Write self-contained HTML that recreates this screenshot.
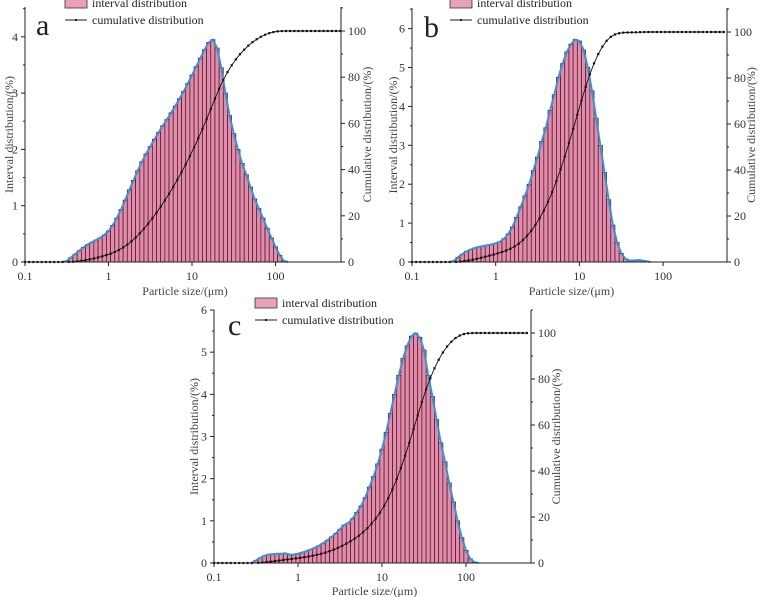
<!DOCTYPE html>
<html><head><meta charset="utf-8"><style>
body{margin:0;background:#fff;}
svg{display:block;font-family:"Liberation Serif",serif;}
</style></head><body>
<svg id="chart" width="760" height="597" viewBox="0 0 760 597" xmlns="http://www.w3.org/2000/svg"></svg>
<script>
// Bin centers: log10(size) from startLog in steps of 0.05
const startLogA = -0.5;
const intervalA = [0.02,0.08,0.14,0.2,0.26,0.31,0.35,0.39,0.43,0.48,0.55,0.65,0.78,0.93,1.1,1.28,1.45,1.62,1.78,1.92,2.05,2.18,2.3,2.42,2.53,2.65,2.77,2.9,3.03,3.17,3.32,3.47,3.62,3.77,3.9,3.95,3.8,3.45,3.0,2.6,2.28,2.0,1.75,1.55,1.33,1.12,0.95,0.78,0.6,0.43,0.27,0.12,0.02];
const startLogB = -0.5;
const intervalB = [0.03,0.12,0.2,0.27,0.32,0.36,0.39,0.41,0.43,0.45,0.48,0.52,0.6,0.72,0.9,1.15,1.42,1.7,2.0,2.35,2.7,3.1,3.45,3.9,4.3,4.75,5.1,5.4,5.6,5.72,5.68,5.45,5.0,4.4,3.7,3.0,2.3,1.6,0.95,0.5,0.22,0.08,0.04,0.04,0.05,0.04,0.02];
const startLogC = -0.5;
const intervalC = [0.06,0.12,0.17,0.2,0.21,0.22,0.22,0.23,0.2,0.2,0.22,0.25,0.28,0.32,0.36,0.41,0.47,0.54,0.62,0.7,0.8,0.9,0.95,1.05,1.2,1.35,1.55,1.8,2.05,2.35,2.7,3.1,3.55,4.0,4.45,4.85,5.15,5.38,5.45,5.35,5.05,4.45,3.95,3.4,2.85,2.4,1.9,1.45,1.0,0.6,0.3,0.1,0.02];
const xTickLabels = ["0.1","1","10","100"];
const rightTicks = [0,20,40,60,80,100];

const NS = "http://www.w3.org/2000/svg";
const svg = document.getElementById('chart');
function mk(tag, attrs, parent){const e=document.createElementNS(NS,tag);for(const k in attrs)e.setAttribute(k,attrs[k]);(parent||svg).appendChild(e);return e;}

const panels = [
 {id:'a', data:intervalA, start:startLogA, x0:25, dec:83.5, xr:341, y0:262, ytop:7, lmax:(262-7)/56.3, leftTicks:[0,1,2,3,4], ry100:31,
  letter:[36,35], leg:[65,0], xlabY:280, xtitleY:295, ltitleX:9, rtitleX:371},
 {id:'b', data:intervalB, start:startLogB, x0:412, dec:83.7, xr:727, y0:262, ytop:8, lmax:(262-8)/38.9, leftTicks:[0,1,2,3,4,5,6], ry100:32,
  letter:[424,37], leg:[450,0], xlabY:280, xtitleY:295, ltitleX:393, rtitleX:755},
 {id:'c', data:intervalC, start:startLogC, x0:214, dec:84, xr:531, y0:563, ytop:310, lmax:6, leftTicks:[0,1,2,3,4,5,6], ry100:333,
  letter:[228,335], leg:[255,300], xlabY:581, xtitleY:595, ltitleX:194, rtitleX:560}
];

panels.forEach(p=>{
  const g = mk('g',{});
  
  
  const xs = l => p.x0 + (l+1)*p.dec;
  const ysL = v => p.y0 - v*(p.y0-p.ytop)/p.lmax;
  const ysR = v => p.y0 - v*(p.y0-p.ry100)/100;
  const bars = mk('g',{},g);
  
  
  const pts=[];
  p.data.forEach((v,i)=>{
    const l = p.start + 0.05*i;
    const xa = xs(l-0.025), xb = xs(l+0.025);
    const r = mk('rect',{x:xa,y:ysL(v),width:xb-xa,height:p.y0-ysL(v),fill:'#e68aa9',stroke:'#3a1828','stroke-width':0.7},bars);
    
    
    pts.push([xs(l),ysL(v)]);
  });
  const allPts=[[xs(p.start-0.05),p.y0]].concat(pts).concat([[xs(p.start+0.05*p.data.length),p.y0]]);
  const curve = mk('polyline',{points:allPts.map(q=>q.join(',')).join(' '),fill:'none',stroke:'#3b8fd4','stroke-width':2},g);
  
  
  const total = p.data.reduce((a,b)=>a+b,0);
  const cpts=[]; let cs=0;
  for(let l=-1;l<p.start-0.001;l+=0.05) cpts.push([xs(l),ysR(0)]);
  p.data.forEach((v,i)=>{cs+=v;cpts.push([xs(p.start+0.05*i+0.025),ysR(cs/total*100)]);});
  const maxL=(p.xr-p.x0)/p.dec-1;
  for(let l=p.start+0.05*p.data.length+0.025;l<=maxL;l+=0.05) cpts.push([xs(l),ysR(100)]);
  const cum = mk('polyline',{points:cpts.map(q=>q.join(',')).join(' '),fill:'none',stroke:'#111','stroke-width':0.9},g);
  
  
  cpts.forEach(q=>{const c=mk('rect',{x:q[0]-1.1,y:q[1]-1.1,width:2.2,height:2.2,fill:'#111'},g);
    
    });
  const ax = mk('path',{d:`M${p.x0},${p.ytop}V${p.y0}H${p.xr}V${p.ytop}`,fill:'none',stroke:'#222','stroke-width':1},g);
  
  
  xTickLabels.forEach((t,i)=>{
    const x=xs(i-1);
    mk('line',{x1:x,x2:x,y1:p.y0,y2:p.y0+4,stroke:'#222'},g);
    const tx=mk('text',{x:x,y:p.xlabY,'text-anchor':'middle','font-size':12,fill:'#333'},g);tx.textContent=t;
    
    
  });
  p.leftTicks.forEach(v=>{
    const y=ysL(v);
    mk('line',{x1:p.x0-4,x2:p.x0,y1:y,y2:y,stroke:'#222'},g);
    if(v+0.5<=p.lmax){const y2=ysL(v+0.5);mk('line',{x1:p.x0-2,x2:p.x0,y1:y2,y2:y2,stroke:'#222'},g);}
    const tx=mk('text',{x:p.x0-7,y:y+4,'text-anchor':'end','font-size':12,fill:'#333'},g);tx.textContent=v;
    
    
  });
  rightTicks.forEach(v=>{
    const y=ysR(v);
    mk('line',{x1:p.xr,x2:p.xr+4,y1:y,y2:y,stroke:'#222'},g);
    const y2=ysR(v+10);mk('line',{x1:p.xr,x2:p.xr+2,y1:y2,y2:y2,stroke:'#222'},g);
    const tx=mk('text',{x:p.xr+7,y:y+4,'font-size':12,fill:'#333'},g);tx.textContent=v;
    
    
  });
  const xt=mk('text',{x:(p.x0+p.xr)/2+2,y:p.xtitleY,'text-anchor':'middle','font-size':12,fill:'#444'},g);xt.textContent='Particle size/(μm)';
  
  
  const cy=(p.y0+p.ytop)/2;
  const lt=mk('text',{x:p.ltitleX,y:cy,'text-anchor':'middle','font-size':12,fill:'#444',transform:`rotate(-90 ${p.ltitleX} ${cy})`,dy:4},g);lt.textContent='Interval distribution/(%)';
  
  
  const rt=mk('text',{x:p.rtitleX,y:cy,'text-anchor':'middle','font-size':12,fill:'#444',transform:`rotate(-90 ${p.rtitleX} ${cy})`,dy:0},g);rt.textContent='Cumulative distribution/(%)';
  
  
  const lt2=mk('text',{x:p.letter[0],y:p.letter[1],'font-size':30,fill:'#222'},g);lt2.textContent=p.id;
  
  
  const lg=mk('g',{},g);
  
  
  mk('rect',{x:p.leg[0],y:p.leg[1]-2,width:22,height:10,fill:'#e8a0bc',stroke:'#333','stroke-width':0.8},lg);
  const t1=mk('text',{x:p.leg[0]+27,y:p.leg[1]+7,'font-size':12,fill:'#222'},lg);t1.textContent='interval distribution';
  
  
  mk('line',{x1:p.leg[0],x2:p.leg[0]+22,y1:p.leg[1]+20,y2:p.leg[1]+20,stroke:'#222'},lg);
  mk('rect',{x:p.leg[0]+10,y:p.leg[1]+19,width:2,height:2,fill:'#222'},lg);
  const t2=mk('text',{x:p.leg[0]+27,y:p.leg[1]+24,'font-size':12,fill:'#222'},lg);t2.textContent='cumulative distribution';
  
  
});
</script>
</body></html>
